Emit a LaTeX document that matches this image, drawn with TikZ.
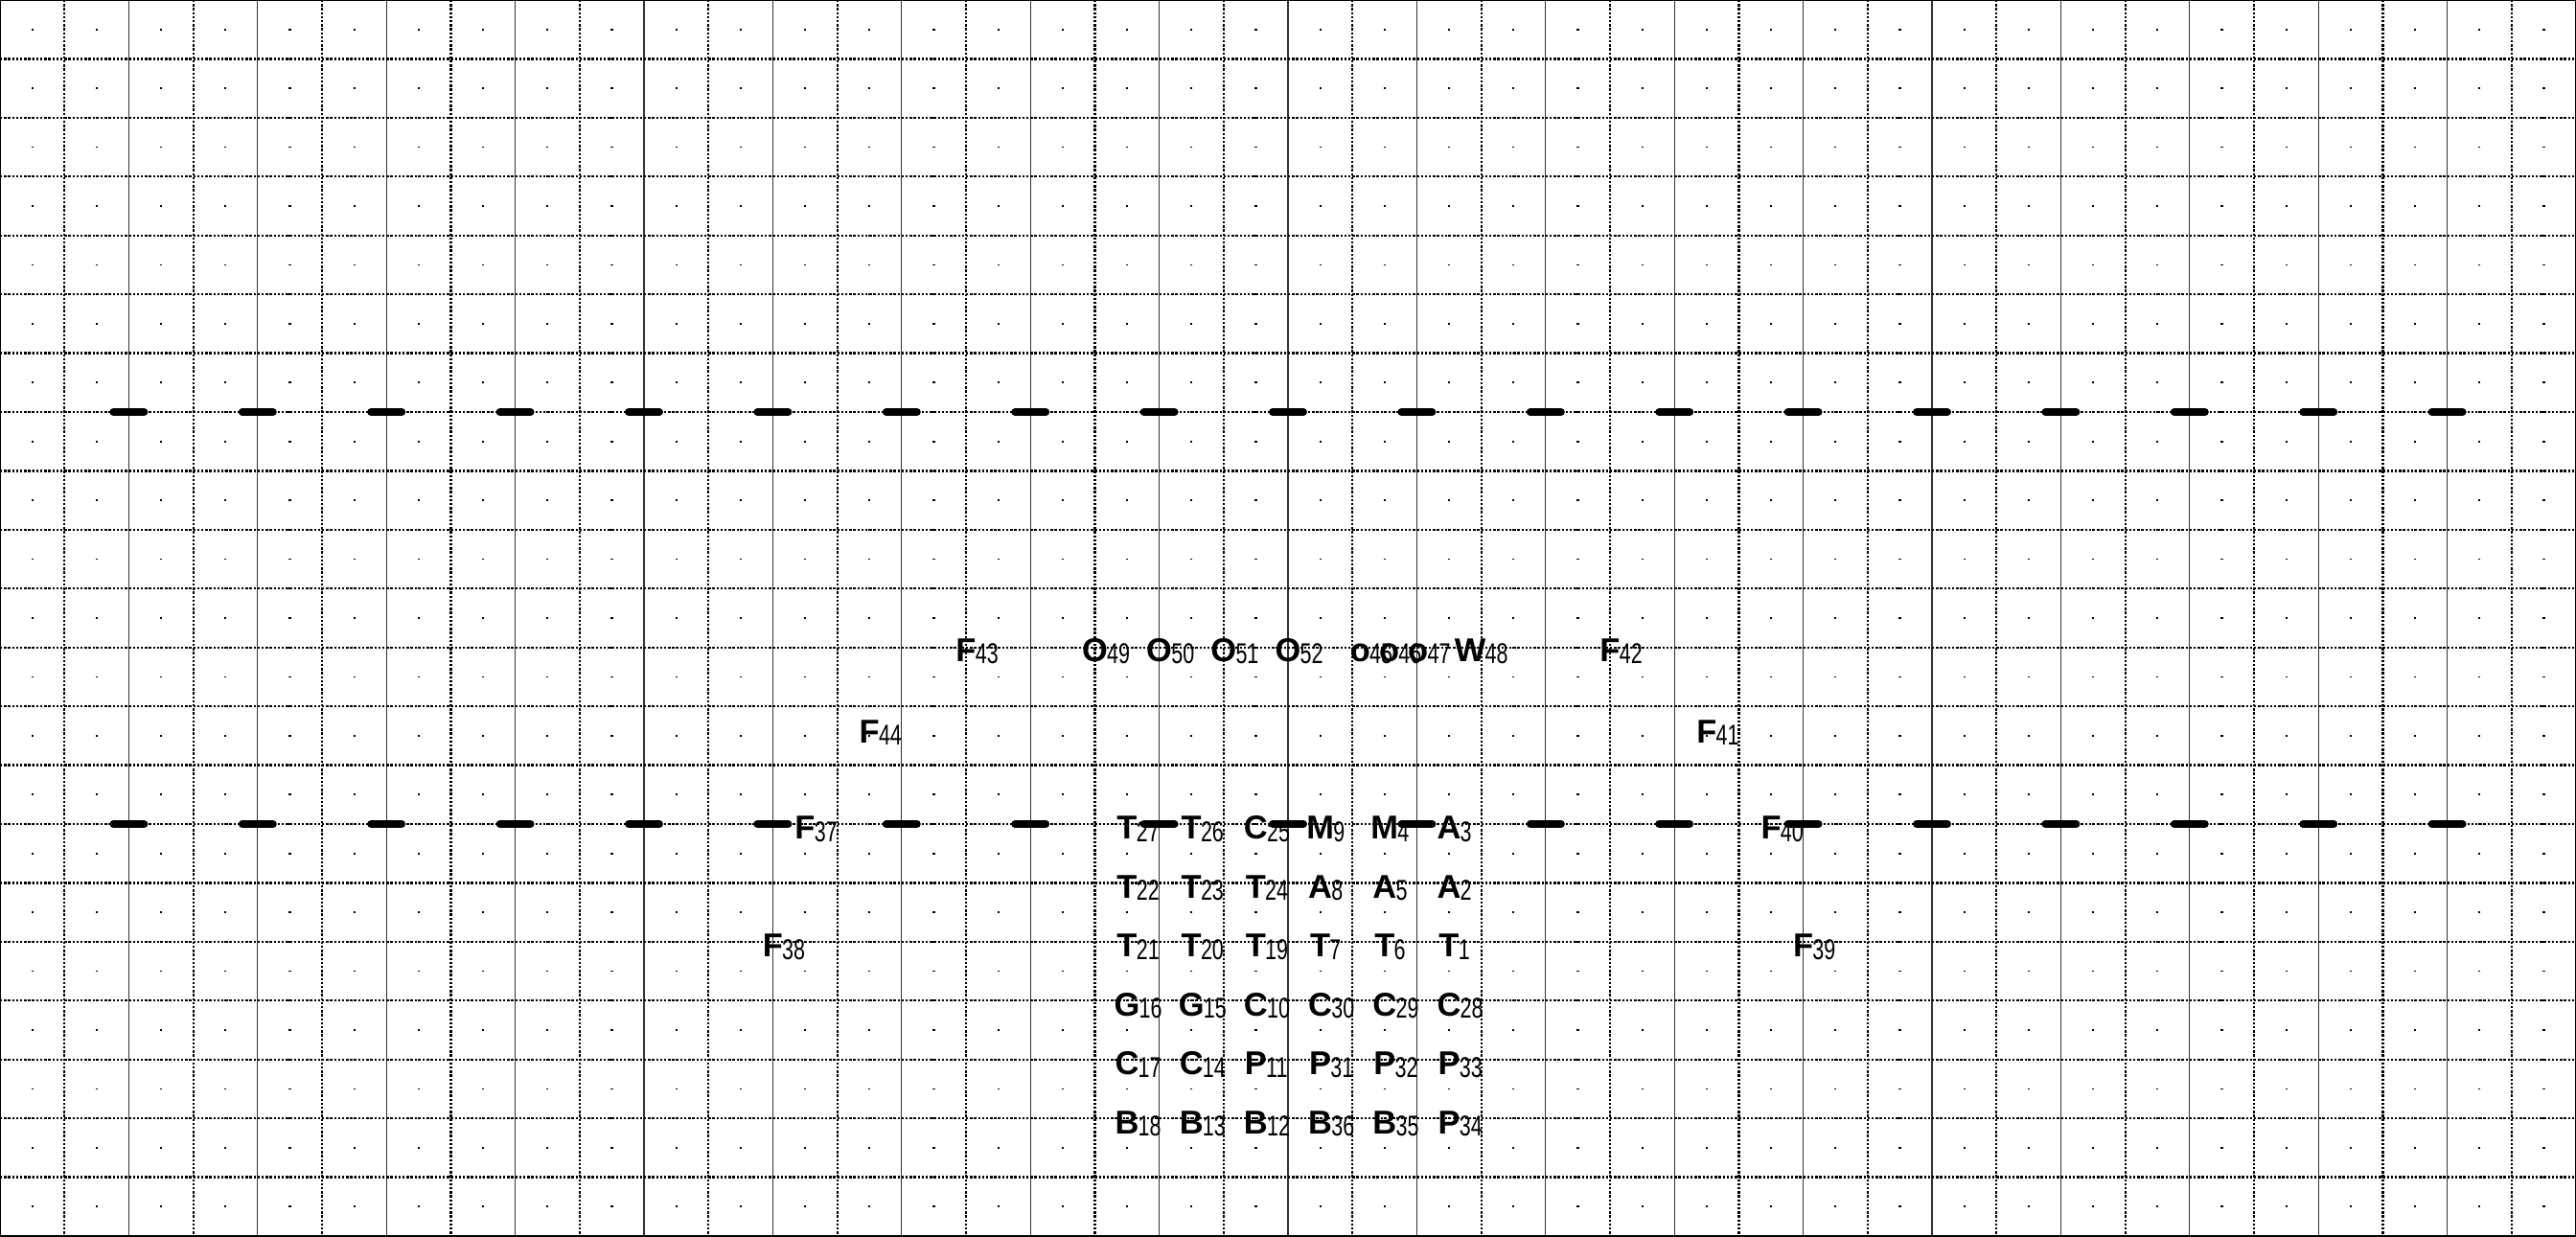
\documentclass[tikz,border=0pt]{standalone}
\usepackage{fontspec}
\setmainfont{Liberation Sans}
\usepackage{graphicx}
\newcommand{\seatlbl}[2]{\textbf{#1}\rlap{\kern-0.2pt\raisebox{-0.7pt}{\scalebox{0.72}[1]{\fontsize{8.5}{8.5}\selectfont #2}}}}

\begin{document}
\begin{tikzpicture}[x=0.672cm,y=-0.614286cm,
  seat/.style={inner sep=0pt,anchor=base,font=\fontsize{9.8}{9.8}\selectfont},
  gridsolid/.style={line width=0.12mm,black!80},
  griddot/.style={line width=0.22mm,dash pattern=on 0.25mm off 0.17mm},
  bar/.style={line width=0.8mm,line cap=round}]
  \useasboundingbox (0,0) rectangle (40,21);
  % Grid
  \foreach \k in {2,4,...,38} \draw[gridsolid] (\k,0) -- (\k,21);
  \foreach \k in {1,3,...,39} \draw[griddot] (\k,0) -- (\k,21);
  \foreach \n in {1,...,20} \draw[griddot] (0,\n) -- (40,\n);
  \foreach \k in {0,...,39} \foreach \n in {1,...,41}
    \fill (\k+0.5,\n/2) ++(-0.11mm,-0.09mm) rectangle ++(0.22mm,0.18mm);
  \draw[line width=0.25mm] (0,0) rectangle (40,21);
  % Top row
  \node[seat] (F43) at (15,11.24) {\seatlbl{F}{43}};
  \node[seat] (O49) at (17,11.24) {\seatlbl{O}{49}};
  \node[seat] (O50) at (18,11.24) {\seatlbl{O}{50}};
  \node[seat] (O51) at (19,11.24) {\seatlbl{O}{51}};
  \node[seat] (O52) at (20,11.24) {\seatlbl{O}{52}};
  \node[seat] (o45) at (21.12,11.24) {\seatlbl{o}{45}};
  \node[seat] (o46) at (21.57,11.24) {\seatlbl{o}{46}};
  \node[seat] (o47) at (22.02,11.24) {\seatlbl{o}{47}};
  \node[seat] (W48) at (22.83,11.24) {\seatlbl{W}{48}};
  \node[seat] (F42) at (25,11.24) {\seatlbl{F}{42}};
  % Side seats
  \node[seat] (F44) at (13.5,12.62) {\seatlbl{F}{44}};
  \node[seat] (F41) at (26.5,12.62) {\seatlbl{F}{41}};
  \node[seat] (F37) at (12.5,14.26) {\seatlbl{F}{37}};
  \node[seat] (F40) at (27.5,14.26) {\seatlbl{F}{40}};
  \node[seat] (F38) at (12,16.26) {\seatlbl{F}{38}};
  \node[seat] (F39) at (28,16.26) {\seatlbl{F}{39}};
  % Block
  \foreach \name/\l/\d [count=\i from 0] in {T27/T/27,T26/T/26,C25/C/25,M9/M/9,M4/M/4,A3/A/3}
    \node[seat] (\name) at (17.5+\i,14.26) {\seatlbl{\l}{\d}};
  \foreach \name/\l/\d [count=\i from 0] in {T22/T/22,T23/T/23,T24/T/24,A8/A/8,A5/A/5,A2/A/2}
    \node[seat] (\name) at (17.5+\i,15.26) {\seatlbl{\l}{\d}};
  \foreach \name/\l/\d [count=\i from 0] in {T21/T/21,T20/T/20,T19/T/19,T7/T/7,T6/T/6,T1/T/1}
    \node[seat] (\name) at (17.5+\i,16.26) {\seatlbl{\l}{\d}};
  \foreach \name/\l/\d [count=\i from 0] in {G16/G/16,G15/G/15,C10/C/10,C30/C/30,C29/C/29,C28/C/28}
    \node[seat] (\name) at (17.5+\i,17.26) {\seatlbl{\l}{\d}};
  \foreach \name/\l/\d [count=\i from 0] in {C17/C/17,C14/C/14,P11/P/11,P31/P/31,P32/P/32,P33/P/33}
    \node[seat] (\name) at (17.5+\i,18.26) {\seatlbl{\l}{\d}};
  \foreach \name/\l/\d [count=\i from 0] in {B18/B/18,B13/B/13,B12/B/12,B36/B/36,B35/B/35,P34/P/34}
    \node[seat] (\name) at (17.5+\i,19.26) {\seatlbl{\l}{\d}};
  % Bars
  \foreach \k in {2,4,...,38} {
    \draw[bar] (\k-0.238,7) -- (\k+0.238,7);
    \draw[bar] (\k-0.238,14) -- (\k+0.238,14);
  }
\end{tikzpicture}
\end{document}
